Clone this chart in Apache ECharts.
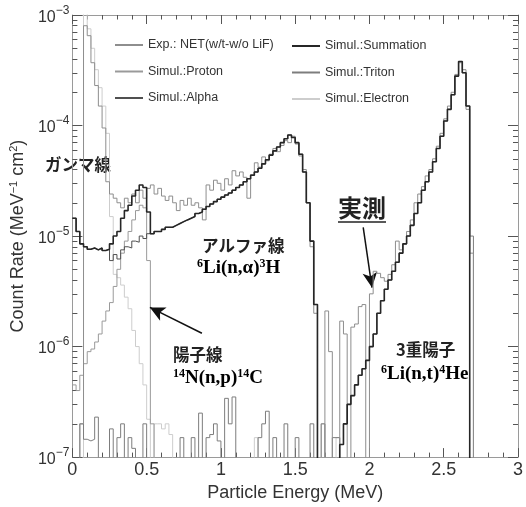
<!DOCTYPE html>
<html>
<head>
<meta charset="utf-8">
<title>Particle energy spectrum</title>
<script src="https://cdn.jsdelivr.net/npm/echarts@6/dist/echarts.min.js"></script>
<style>
html, body { margin: 0; padding: 0; background: #fff; }
#chart { width: 526px; height: 507px; }
</style>
</head>
<body>
<div id="chart"></div>
<script>
// histogram bins, 0.025 MeV wide; each value belongs to the bin starting at binLeft[i] (0 = empty bin)
const binWidth = 0.025
const binCount = 120
const binLeft = Array.from({ length: binCount }, (_, i) => +(i * binWidth).toFixed(3))

const expNet = [
  0, 0, 2e-7, 8e-4, 6.5e-4, 3.7e-4, 2.3e-4, 1.5e-4, 9.5e-5, 3.1e-5,
  2.4e-5, 2.2e-5, 2.0e-5, 1.8e-5, 2.2e-5, 2.0e-5, 2.4e-5, 2.0e-5, 2.6e-5, 2.2e-5,
  2.7e-5, 2.9e-5, 2.4e-5, 2.7e-5, 2.3e-5, 2.1e-5, 2.3e-5, 2.0e-5, 1.7e-5, 2.1e-5,
  1.9e-5, 2.2e-5, 1.9e-5, 2.0e-5, 1.8e-5, 1.4e-5, 2.9e-5, 2.6e-5, 3.2e-5, 3.0e-5,
  2.6e-5, 3.3e-5, 2.9e-5, 3.9e-5, 3.5e-5, 3.8e-5, 3.4e-5, 2.2e-5, 3.6e-5, 4.6e-5,
  4.2e-5, 5.2e-5, 4.8e-5, 5.5e-5, 6.2e-5, 5.8e-5, 6.6e-5, 7.3e-5, 7.0e-5, 8.0e-5,
  6.8e-5, 5.3e-5, 4.0e-5, 2.0e-5, 8e-6, 2e-6, 0, 0, 2.1e-6, 9e-7,
  0, 0, 1.7e-6, 1.3e-6, 0, 1.5e-6, 1.6e-6, 2.3e-6, 2.4e-6, 0,
  3.0e-6, 4.8e-6, 4.6e-6, 4.2e-6, 3.9e-6, 4.5e-6, 5.5e-6, 9e-6, 7.5e-6, 8.5e-6,
  1.1e-5, 1.4e-5, 2.0e-5, 2.4e-5, 2.8e-5, 3.5e-5, 4.0e-5, 5.0e-5, 6.5e-5, 8.5e-5,
  1.15e-4, 1.5e-4, 2.0e-4, 2.9e-4, 3.7e-4, 3.2e-4, 1.4e-4, 7e-6, 0, 0,
  0, 0, 0, 0, 0, 0, 0, 0, 0, 0
]

const simSummation = [
  1.45e-5, 1.1e-5, 8.5e-6, 8.0e-6, 7.6e-6, 7.8e-6, 7.5e-6, 7.8e-6, 7.4e-6, 7.6e-6,
  8.5e-6, 1.0e-5, 1.1e-5, 1.45e-5, 1.7e-5, 1.9e-5, 2.3e-5, 2.6e-5, 2.9e-5, 2.75e-5,
  1.65e-5, 1.05e-5, 1.1e-5, 1.1e-5, 1.15e-5, 1.2e-5, 1.2e-5, 1.25e-5, 1.3e-5, 1.35e-5,
  1.4e-5, 1.45e-5, 1.5e-5, 1.6e-5, 1.65e-5, 1.75e-5, 1.85e-5, 1.95e-5, 2.05e-5, 2.15e-5,
  2.25e-5, 2.35e-5, 2.45e-5, 2.6e-5, 2.75e-5, 2.9e-5, 3.1e-5, 3.3e-5, 3.55e-5, 3.8e-5,
  4.1e-5, 4.5e-5, 4.9e-5, 5.4e-5, 5.9e-5, 6.4e-5, 7.0e-5, 7.6e-5, 8.2e-5, 7.8e-5,
  7.0e-5, 5.5e-5, 3.8e-5, 2.0e-5, 9e-6, 2.4e-6, 0, 0, 0, 0,
  0, 0, 1.3e-7, 2.0e-7, 3.0e-7, 3.6e-7, 4.5e-7, 5.5e-7, 6.3e-7, 7.5e-7,
  1.0e-6, 1.3e-6, 2.0e-6, 2.6e-6, 3.3e-6, 4.0e-6, 4.8e-6, 5.8e-6, 7.0e-6, 8.5e-6,
  1.0e-5, 1.25e-5, 1.6e-5, 2.0e-5, 2.6e-5, 3.1e-5, 3.8e-5, 4.7e-5, 6.2e-5, 8.0e-5,
  1.1e-4, 1.4e-4, 1.9e-4, 2.8e-4, 3.8e-4, 3.0e-4, 1.5e-4, 0, 0, 0,
  0, 0, 0, 0, 0, 0, 0, 0, 0, 0
]

const simProton = [
  4.5e-7, 4.0e-7, 5.5e-7, 7.0e-7, 9.0e-7, 9.5e-7, 1.1e-6, 1.3e-6, 1.7e-6, 2.1e-6,
  2.5e-6, 3.5e-6, 5.0e-6, 7.0e-6, 9.0e-6, 1.1e-5, 1.4e-5, 1.7e-5, 1.9e-5, 1.8e-5,
  6e-6, 2e-7, 0, 0, 0, 0, 0, 0, 0, 0,
  0, 0, 0, 0, 0, 0, 0, 0, 0, 0,
  0, 0, 0, 0, 0, 0, 0, 0, 0, 0,
  0, 0, 0, 0, 0, 0, 0, 0, 0, 0,
  0, 0, 0, 0, 0, 0, 0, 0, 0, 0,
  0, 0, 0, 0, 0, 0, 0, 0, 0, 0,
  0, 0, 0, 0, 0, 0, 0, 0, 0, 0,
  0, 0, 0, 0, 0, 0, 0, 0, 0, 0,
  0, 0, 0, 0, 0, 0, 0, 0, 0, 0,
  0, 0, 0, 0, 0, 0, 0, 0, 0, 0
]

const simTriton = [
  0, 0, 2e-7, 1.45e-7, 1.4e-7, 1.45e-7, 2.3e-7, 0, 0, 0,
  1.8e-7, 0, 1.5e-7, 2e-7, 0, 1.5e-7, 1.2e-7, 0, 0, 2e-7,
  0, 0, 0, 0, 0, 0, 0, 0, 0, 1.5e-7,
  0, 0, 1.5e-7, 0, 2.5e-7, 0, 1.5e-7, 1.6e-7, 2e-7, 1.4e-7,
  0, 3.4e-7, 2e-7, 3.5e-7, 0, 0, 0, 0, 0, 0,
  1.5e-7, 2e-7, 2.6e-7, 0, 1.5e-7, 0, 0, 2e-7, 0, 0,
  1.5e-7, 0, 0, 0, 2e-7, 0, 0, 2e-7, 0, 0,
  1.5e-7, 1.5e-7, 1.3e-7, 2.0e-7, 3.0e-7, 3.6e-7, 4.5e-7, 5.5e-7, 6.3e-7, 7.5e-7,
  1.0e-6, 1.3e-6, 2.0e-6, 2.6e-6, 3.3e-6, 4.0e-6, 4.8e-6, 5.8e-6, 7.0e-6, 8.5e-6,
  1.0e-5, 1.25e-5, 1.6e-5, 2.0e-5, 2.6e-5, 3.1e-5, 3.8e-5, 4.7e-5, 6.2e-5, 8.0e-5,
  1.1e-4, 1.4e-4, 1.9e-4, 2.8e-4, 3.8e-4, 3.0e-4, 1.5e-4, 1.0e-5, 0, 0,
  0, 0, 0, 0, 0, 0, 0, 0, 0, 0
]

const simAlpha = [
  1.45e-5, 1.1e-5, 8.5e-6, 8.0e-6, 7.6e-6, 7.8e-6, 7.5e-6, 7.8e-6, 7.4e-6, 7.6e-6,
  6.0e-6, 6.8e-6, 6.2e-6, 7.5e-6, 8.0e-6, 7.8e-6, 9.0e-6, 8.8e-6, 1.0e-5, 9.5e-6,
  1.05e-5, 1.05e-5, 1.1e-5, 1.1e-5, 1.15e-5, 1.2e-5, 1.2e-5, 1.25e-5, 1.3e-5, 1.35e-5,
  1.4e-5, 1.45e-5, 1.5e-5, 1.6e-5, 1.65e-5, 1.75e-5, 1.85e-5, 1.95e-5, 2.05e-5, 2.15e-5,
  2.25e-5, 2.35e-5, 2.45e-5, 2.6e-5, 2.75e-5, 2.9e-5, 3.1e-5, 3.3e-5, 3.55e-5, 3.8e-5,
  4.1e-5, 4.5e-5, 4.9e-5, 5.4e-5, 5.9e-5, 6.4e-5, 7.0e-5, 7.6e-5, 8.2e-5, 7.8e-5,
  7.0e-5, 5.5e-5, 3.8e-5, 2.0e-5, 9e-6, 2.4e-6, 0, 0, 0, 0,
  0, 0, 0, 0, 0, 0, 0, 0, 0, 0,
  0, 0, 0, 0, 0, 0, 0, 0, 0, 0,
  0, 0, 0, 0, 0, 0, 0, 0, 0, 0,
  0, 0, 0, 0, 0, 0, 0, 0, 0, 0,
  0, 0, 0, 0, 0, 0, 0, 0, 0, 0
]

const simElectron = [
  0, 0, 0, 1.2e-3, 7.5e-4, 5.0e-4, 3.2e-4, 2.2e-4, 1.5e-4, 8.5e-5,
  1.5e-5, 4.5e-6, 4.2e-6, 3.6e-6, 2.8e-6, 2.2e-6, 1.4e-6, 1.0e-6, 7e-7, 4.5e-7,
  2.2e-7, 0, 2e-7, 2e-7, 1.8e-7, 2e-7, 1.6e-7, 0, 0, 0,
  0, 0, 0, 0, 0, 0, 0, 0, 0, 0,
  0, 0, 0, 0, 0, 0, 0, 0, 0, 1.5e-7,
  0, 0, 0, 0, 0, 0, 0, 0, 0, 0,
  0, 0, 0, 0, 0, 0, 0, 2e-7, 0, 0,
  0, 1.5e-7, 0, 0, 0, 0, 0, 0, 0, 0,
  0, 0, 0, 0, 0, 0, 0, 0, 0, 0,
  0, 0, 0, 0, 0, 0, 0, 0, 0, 0,
  0, 0, 0, 0, 0, 0, 0, 0, 0, 0,
  0, 0, 0, 0, 0, 0, 0, 0, 0, 0
]

const xTicks = [0, 0.5, 1, 1.5, 2, 2.5, 3]
const yMin = 1e-7
const yMax = 1e-3

const FONT = 'Liberation Sans, Arial, sans-serif'
const SERIF = 'Liberation Serif, Times New Roman, serif'
const JP = 'Noto Sans CJK JP, sans-serif'
const FLOOR = 1e-9 // empty bins fall below the axis floor and get clipped

// minor log ticks 2..9 in every decade
const minorTickVals = []
for (let e = -7; e < -3; e++) {
  for (let m = 2; m <= 9; m++) minorTickVals.push(m * Math.pow(10, e))
}

function toSteps(vals) {
  const pts = vals.map((v, i) => [binLeft[i], v > 0 ? v : FLOOR])
  pts.push([binCount * binWidth, FLOOR])
  return pts
}

function histSeries(name, vals, color, width, z) {
  return {
    name: name,
    type: 'line',
    step: 'end',
    data: toSteps(vals),
    symbol: 'none',
    clip: true,
    silent: true,
    z: z,
    lineStyle: { color: color, width: width },
    itemStyle: { color: color }
  }
}

const chart = echarts.init(document.getElementById('chart'), null, { renderer: 'canvas' })

const axisLineStyle = { color: '#9a9a9a', width: 1 }
const tickStyle = { color: '#555', width: 1 }

const summation = histSeries('Simul.:Summation', simSummation, '#262626', 1.6, 8)
summation.markLine = {
  silent: true,
  symbol: ['none', 'arrow'],
  symbolSize: [11, 15],
  label: { show: false },
  lineStyle: { color: '#111', width: 1.5, type: 'solid' },
  data: [
    [{ coord: [0.872, 1.32e-6] }, { coord: [0.522, 2.26e-6] }],
    [{ coord: [1.958, 1.2e-5] }, { coord: [2.017, 3.42e-6] }]
  ]
}

const supRich = {
  m: { fontFamily: SERIF, fontWeight: 'bold', fontSize: 19, color: '#222', verticalAlign: 'bottom' },
  s: { fontFamily: SERIF, fontWeight: 'bold', fontSize: 12, color: '#222', verticalAlign: 'bottom', padding: [0, 0, 8, 0] }
}

function jpText(text, x, y, size) {
  return {
    type: 'text', x: x, y: y, silent: true,
    style: { text: text, fontFamily: JP, fontWeight: 'bold', fontSize: size || 16.5, fill: '#222', align: 'left', verticalAlign: 'middle' }
  }
}
function formulaText(text, x, y) {
  return {
    type: 'text', x: x, y: y, silent: true,
    style: { text: text, rich: supRich, align: 'left', verticalAlign: 'middle' }
  }
}

const legendBase = {
  orient: 'vertical',
  padding: 0,
  itemWidth: 28,
  itemHeight: 2,
  itemGap: 12.5,
  icon: 'rect',
  selectedMode: false,
  textStyle: { fontFamily: FONT, fontSize: 12.5, color: '#333', lineHeight: 14 }
}

chart.setOption({
  animation: false,
  backgroundColor: '#fff',
  grid: { left: 63, top: 15, width: 461, height: 446, containLabel: false },
  legend: [
    Object.assign({}, legendBase, { data: ['Exp.: NET(w/t-w/o LiF)', 'Simul.:Proton', 'Simul.:Alpha'], left: 115, top: 38 }),
    Object.assign({}, legendBase, { data: ['Simul.:Summation', 'Simul.:Triton', 'Simul.:Electron'], left: 292, top: 39 })
  ],
  xAxis: [{
    type: 'value',
    position: 'bottom',
    min: xTicks[0],
    max: xTicks[xTicks.length - 1],
    interval: 0.5,
    name: 'Particle Energy (MeV)',
    nameLocation: 'middle',
    nameGap: 21,
    nameTextStyle: { fontFamily: FONT, fontSize: 18, color: '#333' },
    axisLine: { show: true, lineStyle: axisLineStyle },
    axisTick: { show: true, inside: true, length: 9, lineStyle: tickStyle },
    minorTick: { show: true, splitNumber: 5, length: 4.5, lineStyle: tickStyle },
    splitLine: { show: false },
    axisLabel: { fontFamily: FONT, fontSize: 18, color: '#333', margin: 4, formatter: v => String(v) }
  }, {
    type: 'value',
    position: 'top',
    min: xTicks[0],
    max: xTicks[xTicks.length - 1],
    interval: 0.5,
    axisLine: { show: true, lineStyle: axisLineStyle },
    axisTick: { show: true, inside: true, length: 9, lineStyle: tickStyle },
    minorTick: { show: true, splitNumber: 5, length: 4.5, lineStyle: tickStyle },
    splitLine: { show: false },
    axisLabel: { show: false }
  }],
  yAxis: [{
    type: 'log',
    logBase: 10,
    position: 'left',
    min: yMin,
    max: yMax,
    name: '{n|Count Rate (MeV}{s|−1}{n| cm}{s|2}{n|)}',
    nameLocation: 'middle',
    nameRotate: 90,
    nameGap: 36,
    nameTextStyle: {
      rich: {
        n: { fontFamily: FONT, fontSize: 18, color: '#333', verticalAlign: 'bottom' },
        s: { fontFamily: FONT, fontSize: 11, color: '#333', verticalAlign: 'bottom', padding: [0, 0, 8, 0] }
      }
    },
    axisLine: { show: true, lineStyle: axisLineStyle },
    axisTick: { show: true, inside: true, length: 10, lineStyle: tickStyle },
    splitLine: { show: false },
    axisLabel: {
      margin: 3,
      formatter: v => '{b|10}{s|−' + Math.round(-Math.log10(v)) + '}',
      rich: {
        b: { fontFamily: FONT, fontSize: 16, color: '#333', verticalAlign: 'bottom' },
        s: { fontFamily: FONT, fontSize: 12, color: '#333', verticalAlign: 'bottom', padding: [0, 0, 9, 0] }
      }
    }
  }, {
    type: 'log', logBase: 10, position: 'left', min: yMin, max: yMax,
    axisLine: { show: false },
    axisTick: { show: true, inside: true, length: 5, lineStyle: tickStyle, customValues: minorTickVals },
    axisLabel: { show: false },
    splitLine: { show: false }
  }, {
    type: 'log', logBase: 10, position: 'right', min: yMin, max: yMax,
    axisLine: { show: true, lineStyle: axisLineStyle },
    axisTick: { show: true, inside: true, length: 10, lineStyle: tickStyle },
    axisLabel: { show: false },
    splitLine: { show: false }
  }, {
    type: 'log', logBase: 10, position: 'right', min: yMin, max: yMax,
    axisLine: { show: false },
    axisTick: { show: true, inside: true, length: 5, lineStyle: tickStyle, customValues: minorTickVals },
    axisLabel: { show: false },
    splitLine: { show: false }
  }],
  series: [
    histSeries('Simul.:Electron', simElectron, '#cdcdcd', 1, 2),
    histSeries('Simul.:Proton', simProton, '#9a9a9a', 1, 3),
    histSeries('Simul.:Triton', simTriton, '#7d7d7d', 1, 4),
    histSeries('Simul.:Alpha', simAlpha, '#505050', 1, 5),
    histSeries('Exp.: NET(w/t-w/o LiF)', expNet, '#8e8e8e', 1, 6),
    summation
  ],
  graphic: [
    jpText('ガンマ線', 45, 165),
    jpText('アルファ線', 202, 246),
    formulaText('{s|6}{m|Li(n,α)}{s|3}{m|H}', 197, 268),
    jpText('陽子線', 173, 355),
    formulaText('{s|14}{m|N(n,p)}{s|14}{m|C}', 173, 378),
    jpText('実測', 338, 208, 24),
    { type: 'line', silent: true, shape: { x1: 338, y1: 222, x2: 386, y2: 222 }, style: { stroke: '#222', lineWidth: 1.5 } },
    jpText('3重陽子', 396, 350),
    formulaText('{s|6}{m|Li(n,t)}{s|4}{m|He}', 381, 374)
  ]
})
</script>
</body>
</html>
